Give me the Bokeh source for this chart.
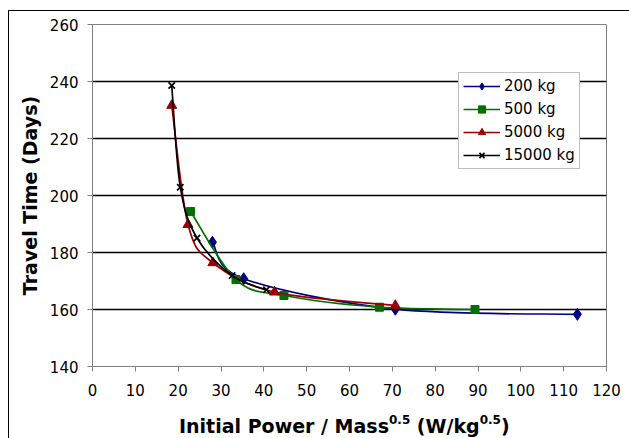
from bokeh.embed import file_html
from bokeh.layouts import column
from bokeh.models import Div, FixedTicker, Legend, LegendItem, Range1d
from bokeh.plotting import figure
from bokeh.resources import INLINE

# Travel time versus initial power-to-mass ratio for four spacecraft masses
series_names = ["200 kg", "500 kg", "5000 kg", "15000 kg"]

x_200 = [28.0, 35.3, 70.7, 113.2]
y_200 = [183.6, 170.8, 160.1, 158.3]

x_500 = [22.9, 33.5, 44.7, 67.0, 89.3]
y_500 = [194.4, 170.5, 164.9, 160.8, 160.0]

x_5000 = [18.5, 22.3, 28.1, 42.5, 70.7]
y_5000 = [231.6, 189.8, 176.4, 166.1, 161.4]

x_15000 = [18.5, 20.5, 24.4, 32.6, 40.6]
y_15000 = [238.6, 202.9, 185.1, 171.9, 166.9]

x_ticks = list(range(0, 121, 10))
y_ticks = list(range(140, 261, 20))

FONT = "DejaVu Sans"

p = figure(width=620, height=395, output_backend="svg", toolbar_location=None,
           x_range=Range1d(0, 120), y_range=Range1d(140, 260),
           min_border_left=83, min_border_right=23,
           min_border_top=13, min_border_bottom=40, margin=0)
p.background_fill_color = "white"
p.border_fill_color = "white"
p.outline_line_color = "#808080"
p.outline_line_width = 1

# axes
for ax in (p.xaxis[0], p.yaxis[0]):
    ax.axis_line_color = "#808080"
    ax.major_tick_line_color = "#808080"
    ax.major_tick_in = 0
    ax.major_tick_out = 5
    ax.minor_tick_line_color = None
    ax.major_label_text_font = FONT
    ax.major_label_text_font_size = "15px"
    ax.major_label_text_color = "black"
p.xaxis.ticker = FixedTicker(ticks=x_ticks)
p.yaxis.ticker = FixedTicker(ticks=y_ticks)
p.xaxis.major_label_standoff = 12
p.yaxis.major_label_standoff = 9

p.yaxis.axis_label = "Travel Time (Days)"
p.yaxis.axis_label_text_font = FONT
p.yaxis.axis_label_text_font_style = "bold"
p.yaxis.axis_label_text_font_size = "19px"
p.yaxis.axis_label_text_color = "black"
p.yaxis.axis_label_standoff = 6

p.xgrid.grid_line_color = None
p.ygrid.ticker = FixedTicker(ticks=y_ticks[1:-1])
p.ygrid.grid_line_color = "black"
p.ygrid.grid_line_width = 1.3


def smooth_segments(xs, ys):
    """Cubic Bezier pieces (Catmull-Rom) through the given points."""
    n = len(xs)
    seg = dict(x0=[], y0=[], x1=[], y1=[], cx0=[], cy0=[], cx1=[], cy1=[])
    for i in range(n - 1):
        a = max(i - 1, 0)
        d = min(i + 2, n - 1)
        seg["x0"].append(xs[i]); seg["y0"].append(ys[i])
        seg["x1"].append(xs[i + 1]); seg["y1"].append(ys[i + 1])
        seg["cx0"].append(xs[i] + (xs[i + 1] - xs[a]) / 6)
        seg["cy0"].append(ys[i] + (ys[i + 1] - ys[a]) / 6)
        seg["cx1"].append(xs[i + 1] - (xs[d] - xs[i]) / 6)
        seg["cy1"].append(ys[i + 1] - (ys[d] - ys[i]) / 6)
    return seg


styles = [
    (x_200, y_200, "#000080", dict(marker="diamond", size=12)),
    (x_500, y_500, "#007000", dict(marker="square", size=8)),
    (x_5000, y_5000, "#9a0000", dict(marker="triangle", size=10)),
    (x_15000, y_15000, "black", dict(marker="x", size=9, line_width=1.7)),
]

items = []
for name, (xs, ys, color, mk) in zip(series_names, styles):
    seg = smooth_segments(xs, ys)
    curve = p.bezier(x0="x0", y0="y0", x1="x1", y1="y1", cx0="cx0", cy0="cy0",
                     cx1="cx1", cy1="cy1", source=seg, line_color=color,
                     line_width=1.7)
    mk = dict(mk)
    lw = mk.pop("line_width", 1)
    pts = p.scatter(xs, ys, fill_color=color, line_color=color,
                    line_width=lw, **mk)
    items.append(LegendItem(label=name, renderers=[curve, pts]))

legend = Legend(items=items, location=(366, 197))
legend.label_text_font = FONT
legend.label_text_font_size = "15px"
legend.label_text_color = "black"
legend.border_line_color = "#808080"
legend.border_line_width = 1
legend.background_fill_color = "white"
legend.background_fill_alpha = 1
legend.padding = 4
legend.spacing = 5
legend.margin = 0
legend.glyph_width = 37
legend.glyph_height = 18
legend.label_height = 18
legend.label_standoff = 4
p.add_layout(legend)

# x-axis title with superscript exponents
sup = ('<span style="font-size:12px; position:relative; top:-9px">'
       '0.5</span>')
x_title = Div(
    text=('<div style="font-family:\'DejaVu Sans\'; font-weight:bold; '
          'font-size:19px; line-height:22px; padding-top:9px; '
          'padding-left:170px; white-space:nowrap; color:black">'
          f'Initial Power / Mass{sup} (W/kg{sup})</div>'),
    width=620, height=32, margin=0)

layout = column(p, x_title, spacing=0,
                styles={"margin-left": "8px", "margin-top": "10px",
                        "border-left": "1px solid black",
                        "border-top": "1px solid black",
                        "background-color": "white"})

open("out.html", "w").write(file_html(layout, INLINE))
